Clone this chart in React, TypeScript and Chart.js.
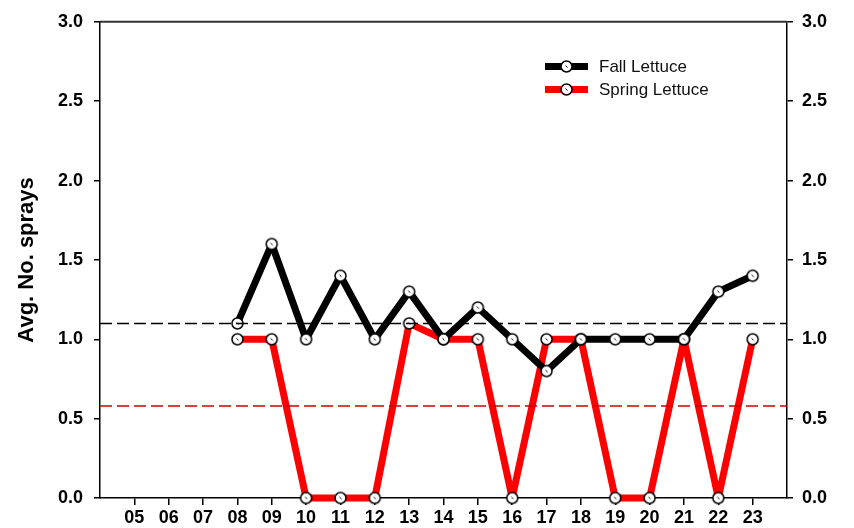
import React, { useEffect, useRef } from 'react';
import { Chart, registerables } from 'chart.js';

Chart.register(...registerables);

// ---- Data ----
const seasons = ['08', '09', '10', '11', '12', '13', '14', '15', '16', '17', '18', '19', '20', '21', '22', '23'];
const fallLettuce = [1.1, 1.6, 1.0, 1.4, 1.0, 1.3, 1.0, 1.2, 1.0, 0.8, 1.0, 1.0, 1.0, 1.0, 1.3, 1.4];
const springLettuce = [1.0, 1.0, 0.0, 0.0, 0.0, 1.1, 1.0, 1.0, 0.0, 1.0, 1.0, 0.0, 0.0, 1.0, 0.0, 1.0];
const xTickLabels = ['05', '06', '07', '08', '09', '10', '11', '12', '13', '14', '15', '16', '17', '18', '19', '20', '21', '22', '23'];
const xRange = [4, 24];
const yRange = [0, 3];
const yStep = 0.5;
const fallMean = 1.1;
const springMean = 0.58;
const seriesNames = ['Fall Lettuce', 'Spring Lettuce'];
const seriesColors = ['#000000', '#ff0000'];
const meanColors = ['#000000', '#cc0000'];

const FONT = "Arial, 'Liberation Sans', Helvetica, sans-serif";

function makeMarker(r: number): HTMLCanvasElement {
  const size = Math.ceil(2 * r + 4);
  const c = document.createElement('canvas');
  c.width = size;
  c.height = size;
  const ctx = c.getContext('2d')!;
  const cx = size / 2;
  const cy = size / 2;
  ctx.beginPath();
  ctx.arc(cx, cy, r, 0, Math.PI * 2);
  ctx.fillStyle = '#ffffff';
  ctx.fill();
  ctx.lineWidth = 1.5;
  ctx.strokeStyle = '#000000';
  ctx.stroke();
  ctx.beginPath();
  ctx.moveTo(cx - 1, cy - 1);
  ctx.lineTo(cx + 1, cy + 1);
  ctx.lineWidth = 1;
  ctx.stroke();
  return c;
}

export default function App() {
  const ref = useRef<HTMLCanvasElement | null>(null);

  useEffect(() => {
    if (!ref.current) return;
    const marker = makeMarker(5.5);

    const toPoints = (vals: number[]) => seasons.map((s, i) => ({ x: Number(s), y: vals[i] }));

    const meanPlugin = {
      id: 'meanLines',
      afterDatasetsDraw(chart: any) {
        const { ctx, chartArea, scales } = chart;
        const means = [fallMean, springMean];
        ctx.save();
        means.forEach((m, i) => {
          const y = scales.y.getPixelForValue(m);
          ctx.beginPath();
          ctx.setLineDash([12, 5]);
          ctx.lineWidth = 1.5;
          ctx.strokeStyle = meanColors[i];
          ctx.moveTo(chartArea.left, y);
          ctx.lineTo(chartArea.right, y);
          ctx.stroke();
        });
        ctx.restore();
      },
    };

    const framePlugin = {
      id: 'frameTop',
      afterDraw(chart: any) {
        const { ctx, chartArea } = chart;
        ctx.save();
        ctx.beginPath();
        ctx.lineWidth = 2;
        ctx.strokeStyle = '#333333';
        ctx.moveTo(chartArea.left, chartArea.top);
        ctx.lineTo(chartArea.right, chartArea.top);
        ctx.stroke();
        ctx.restore();
      },
    };

    const legendPlugin = {
      id: 'customLegend',
      afterDraw(chart: any) {
        const { ctx } = chart;
        ctx.save();
        const x0 = 545;
        const x1 = 588;
        const ys = [66.5, 89.5];
        seriesNames.forEach((name, i) => {
          const y = ys[i];
          ctx.beginPath();
          ctx.lineWidth = 7;
          ctx.strokeStyle = seriesColors[i];
          ctx.moveTo(x0, y);
          ctx.lineTo(x1, y);
          ctx.stroke();
          ctx.drawImage(marker, (x0 + x1) / 2 - marker.width / 2, y - marker.height / 2);
          ctx.fillStyle = '#111111';
          ctx.font = `17px ${FONT}`;
          ctx.textAlign = 'left';
          ctx.textBaseline = 'middle';
          ctx.fillText(name, 599, y + 0.5);
        });
        ctx.restore();
      },
    };

    const tickFont = { family: FONT, size: 18, weight: 'bold' as const };

    const yScaleCommon = (position: 'left' | 'right') => ({
      type: 'linear' as const,
      position,
      min: yRange[0],
      max: yRange[1],
      grid: {
        display: true,
        drawOnChartArea: false,
        drawTicks: true,
        tickLength: 6,
        color: '#000000',
        lineWidth: 1.5,
      },
      border: { display: true, color: '#000000', width: 1.5 },
      ticks: {
        stepSize: yStep,
        color: '#000000',
        font: tickFont,
        padding: position === 'left' ? 11 : 9,
        callback: (v: any) => Number(v).toFixed(1),
      },
    });

    const lineStyle = {
      borderWidth: 7,
      borderJoinStyle: 'round' as const,
      borderCapStyle: 'round' as const,
      pointStyle: marker as any,
      pointRadius: 5.5,
      tension: 0,
      clip: false as any,
      yAxisID: 'y',
    };

    const chart = new Chart(ref.current, {
      type: 'line',
      data: {
        datasets: [
          {
            label: seriesNames[0],
            data: toPoints(fallLettuce),
            borderColor: seriesColors[0],
            ...lineStyle,
          },
          {
            label: seriesNames[1],
            data: toPoints(springLettuce),
            borderColor: seriesColors[1],
            ...lineStyle,
          },
        ],
      },
      options: {
        responsive: false,
        animation: false,
        devicePixelRatio: 1,
        layout: { padding: { top: 18, left: 0, right: 0, bottom: 0 } },
        plugins: {
          legend: { display: false },
          tooltip: { enabled: false },
        },
        scales: {
          x: {
            type: 'linear',
            position: 'bottom',
            min: xRange[0],
            max: xRange[1],
            grid: {
              display: true,
              drawOnChartArea: false,
              drawTicks: true,
              tickLength: 7,
              color: '#000000',
              lineWidth: 1.5,
            },
            border: { display: true, color: '#000000', width: 1.5 },
            afterBuildTicks: (scale: any) => {
              scale.ticks = xTickLabels.map((l) => ({ value: Number(l) }));
            },
            afterFit: (scale: any) => {
              scale.height = 30;
            },
            ticks: {
              autoSkip: false,
              maxRotation: 0,
              minRotation: 0,
              color: '#000000',
              font: tickFont,
              padding: 2,
              callback: (v: any) => {
                const lbl = xTickLabels.find((l) => Number(l) === Number(v));
                return lbl ?? '';
              },
            },
          },
          y: {
            ...yScaleCommon('left'),
            afterFit: (scale: any) => {
              scale.width = 100;
            },
            title: {
              display: true,
              text: 'Avg. No. sprays',
              color: '#000000',
              font: { family: FONT, size: 22, weight: 'bold' },
              padding: { top: 14, bottom: 0 },
            },
          },
          y2: {
            ...yScaleCommon('right'),
            afterFit: (scale: any) => {
              scale.width = 67;
            },
          },
        },
      },
      plugins: [meanPlugin, framePlugin, legendPlugin],
    });

    return () => {
      chart.destroy();
    };
  }, []);

  return (
    <div style={{ position: 'fixed', left: 0, top: 0, width: 854, height: 528, background: '#ffffff' }}>
      <canvas ref={ref} width={854} height={528} style={{ display: 'block' }} />
    </div>
  );
}
